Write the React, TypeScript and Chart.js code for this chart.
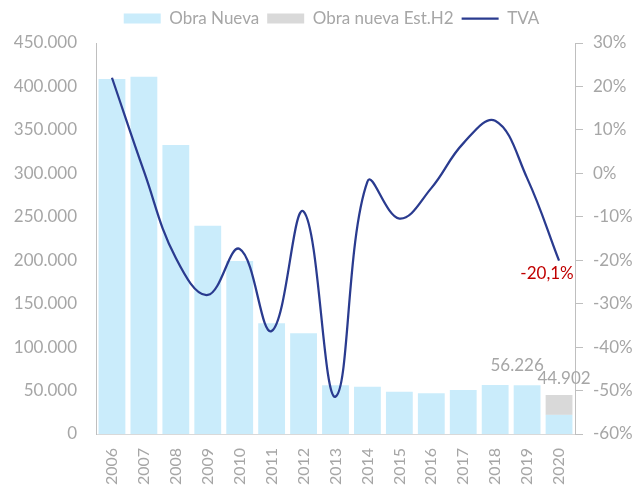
import React, { useEffect, useRef } from "react";
import { Chart, registerables } from "chart.js";

Chart.register(...registerables);

const years = ["2006", "2007", "2008", "2009", "2010", "2011", "2012", "2013", "2014", "2015", "2016", "2017", "2018", "2019", "2020"];
const obraNueva = [408600, 411200, 332600, 239800, 199100, 127400, 115900, 56000, 54400, 48700, 46800, 50600, 56400, 56226, 22000];
const obraNuevaEstH2 = [0, 0, 0, 0, 0, 0, 0, 0, 0, 0, 0, 0, 0, 0, 22902];
const tva = [22, 0.5, -19.5, -28, -17.4, -36.3, -8.8, -51.4, -1.9, -10.4, -3.4, 6.9, 12.1, -1.1, -20.1];
const leftTicks = { min: 0, max: 450000, step: 50000 };
const rightTicks = { min: -60, max: 30, step: 10 };

const FONT = "Lato, 'Open Sans', sans-serif";
const GRAY = "#a6a6a6";
const BLUE_BAR = "#caecfb";
const GRAY_BAR = "#d9d9d9";
const LINE = "#2a3b8f";
const RED = "#c00000";

const fmtThousands = (n: number) =>
  Math.round(n).toString().replace(/\B(?=(\d{3})+(?!\d))/g, ".");
const fmtPct = (n: number) => n.toFixed(1).replace(".", ",") + "%";

const legendTweak = {
  id: "legendTweak",
  afterInit(chart: any) {
    const lg = chart.legend;
    if (!lg) return;
    const fit = lg.fit.bind(lg);
    lg.fit = function () {
      fit();
      this.height += 6;
    };
    const draw = lg.draw.bind(lg);
    lg.draw = function (...args: any[]) {
      const c = chart.ctx;
      c.save();
      c.translate(14, 0);
      draw(...args);
      c.restore();
    };
  },
};

const valueLabels = {
  id: "valueLabels",
  afterDatasetsDraw(chart: any) {
    const ctx = chart.ctx;
    const m0 = chart.getDatasetMeta(0);
    const m1 = chart.getDatasetMeta(1);
    const m2 = chart.getDatasetMeta(2);
    ctx.save();
    ctx.font = `17px ${FONT}`;
    ctx.textAlign = "center";
    ctx.textBaseline = "middle";
    ctx.fillStyle = GRAY;
    const i19 = 13;
    const b19 = m0.data[i19];
    ctx.fillText(fmtThousands(obraNueva[i19]), b19.x - 10, b19.y - 20);
    const i20 = 14;
    const b20 = m1.data[i20];
    ctx.fillText(fmtThousands(obraNueva[i20] + obraNuevaEstH2[i20]), b20.x + 5, b20.y - 16);
    const p20 = m2.data[i20];
    ctx.fillStyle = RED;
    ctx.fillText(fmtPct(tva[i20]), p20.x - 12, p20.y + 13);
    ctx.restore();
  },
};

export default function App() {
  const ref = useRef<HTMLCanvasElement>(null);
  useEffect(() => {
    if (!ref.current) return;
    const chart = new Chart(ref.current, {
      type: "bar",
      data: {
        labels: years,
        datasets: [
          {
            type: "bar",
            label: "Obra Nueva",
            data: obraNueva,
            backgroundColor: BLUE_BAR,
            borderWidth: 0,
            yAxisID: "y",
            barPercentage: 0.84,
            categoryPercentage: 1,
            pointStyle: "rect",
            order: 0,
          } as any,
          {
            type: "bar",
            label: "Obra nueva Est.H2",
            data: obraNuevaEstH2,
            backgroundColor: GRAY_BAR,
            borderWidth: 0,
            yAxisID: "y",
            barPercentage: 0.84,
            categoryPercentage: 1,
            pointStyle: "rect",
            order: 0,
          } as any,
          {
            type: "line",
            label: "TVA",
            data: tva,
            borderColor: LINE,
            backgroundColor: LINE,
            borderWidth: 2.25,
            pointRadius: 0,
            pointHoverRadius: 0,
            pointStyle: "line",
            tension: 0.4,
            yAxisID: "y1",
            order: -1,
          } as any,
        ],
      },
      options: {
        animation: false,
        responsive: true,
        maintainAspectRatio: false,
        layout: { padding: { top: 2, left: 0, right: 0, bottom: 0 } },
        plugins: {
          tooltip: { enabled: false },
          legend: {
            position: "top",
            labels: {
              usePointStyle: true,
              pointStyleWidth: 37,
              boxHeight: 10,
              padding: 8,
              color: GRAY,
              font: { family: FONT, size: 17 },
              sort: (a: any, b: any) => a.datasetIndex - b.datasetIndex,
            },
          },
        },
        scales: {
          x: {
            stacked: true,
            grid: { display: false, drawTicks: false },
            border: { display: true, color: "#d9d9d9", width: 1 },
            ticks: {
              minRotation: 90,
              maxRotation: 90,
              padding: 14,
              color: GRAY,
              font: { family: FONT, size: 16 },
            },
            afterFit: (s: any) => {
              s.height = 54;
            },
          },
          y: {
            position: "left",
            stacked: true,
            min: leftTicks.min,
            max: leftTicks.max,
            grid: { display: false, drawTicks: false },
            border: { display: true, color: "#bfbfbf", width: 1 },
            ticks: {
              stepSize: leftTicks.step,
              padding: 19,
              color: GRAY,
              font: { family: FONT, size: 17 },
              callback: (v: any) => fmtThousands(Number(v)),
            },
            afterFit: (s: any) => {
              s.width = 96;
            },
          },
          y1: {
            position: "right",
            min: rightTicks.min,
            max: rightTicks.max,
            grid: {
              display: true,
              drawOnChartArea: false,
              drawTicks: true,
              tickLength: 8,
              color: "#bfbfbf",
            },
            border: { display: true, color: "#bfbfbf", width: 1 },
            ticks: {
              stepSize: rightTicks.step,
              padding: 10,
              color: GRAY,
              font: { family: FONT, size: 17 },
              callback: (v: any) => `${v}%`,
            },
            afterFit: (s: any) => {
              s.width = 60;
            },
          },
        },
      },
      plugins: [legendTweak, valueLabels],
    });
    return () => chart.destroy();
  }, []);
  return (
    <div style={{ position: "fixed", left: 0, top: 0, width: 635, height: 488, background: "#fff" }}>
      <canvas ref={ref} />
    </div>
  );
}
